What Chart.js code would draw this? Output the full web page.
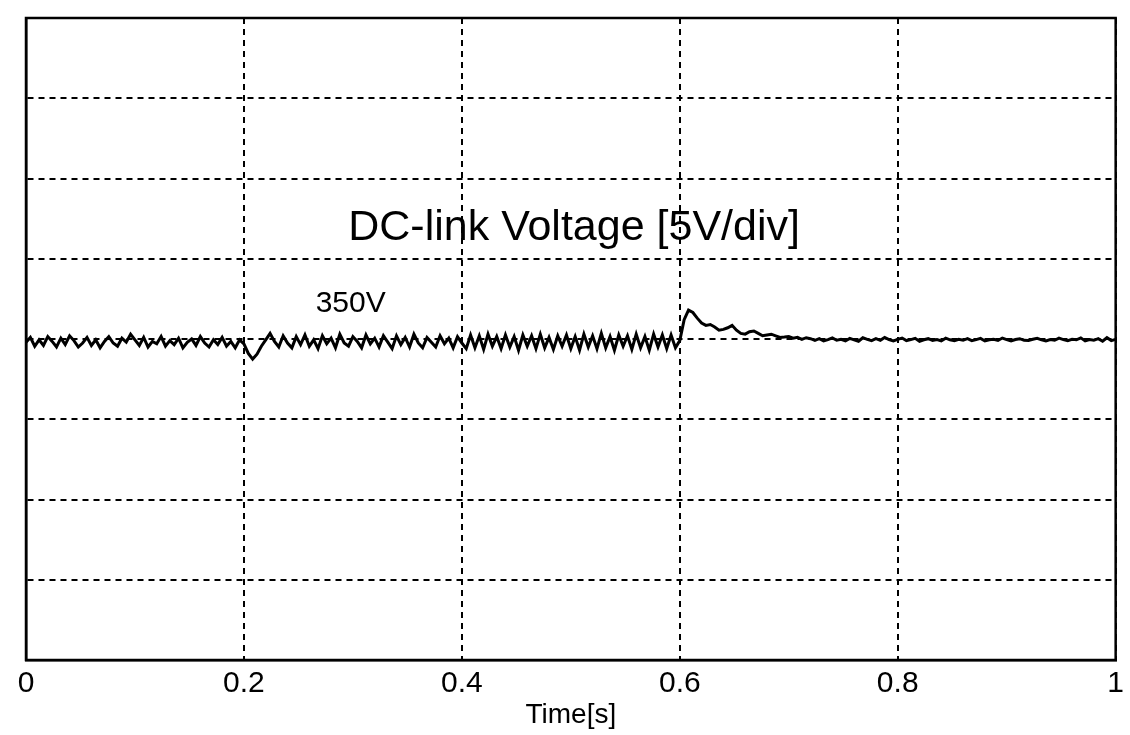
<!DOCTYPE html>
<html>
<head>
<meta charset="utf-8">
<script src="https://cdn.jsdelivr.net/npm/chart.js@4.4.1/dist/chart.umd.min.js"></script>
<style>
  html, body { margin: 0; padding: 0; background: #fff; }
  #wrap { width: 1130px; height: 735px; }
</style>
</head>
<body>
<div id="wrap"><canvas id="c" width="1130" height="735"></canvas></div>
<script>
// ---- data ----
const sampleStep = 0.004;            // seconds between samples
const xTickLabels = ['0', '0.2', '0.4', '0.6', '0.8', '1'];
const xTickValues = [0, 0.2, 0.4, 0.6, 0.8, 1];
const yGridValues = [330, 335, 340, 345, 350, 355, 360, 365, 370];
const xTitle = 'Time[s]';
const plotTitle = 'DC-link Voltage [5V/div]';
const levelLabel = '350V';

// DC-link voltage [V], 0 .. 0.2 s
const vSeg1 = [
  349.80, 350.10, 349.55, 349.95, 349.60, 350.15, 349.85, 349.50, 350.05, 349.65,
  350.20, 349.90, 349.50, 349.75, 350.10, 349.60, 349.95, 349.45, 349.85, 350.15,
  349.75, 349.55, 350.05, 349.80, 350.30, 349.95, 349.60, 350.10, 349.50, 349.85,
  349.70, 350.15, 349.55, 349.90, 349.65, 350.05, 349.45, 349.80, 350.00, 349.60,
  350.15, 349.75, 349.50, 349.95, 349.65, 350.10, 349.55, 349.85, 349.45, 349.95,
  349.70
];
// dip after load step at 0.2 s, then 0.2 .. 0.4 s
const vSeg2 = [
  349.10, 348.75, 349.05, 349.55, 349.95, 350.35, 349.85,
  349.50, 350.20, 349.75, 349.45, 350.15, 349.65, 350.25, 349.55, 349.95, 349.40,
  350.20, 349.70, 350.05, 349.45, 350.30, 349.75, 349.55, 350.15, 349.85, 349.45,
  350.25, 349.70, 350.05, 349.50, 350.20, 349.80, 349.40, 350.20, 349.65, 350.10,
  349.50, 350.30, 349.75, 349.45, 350.10, 349.80, 349.50, 350.20, 349.70, 350.05,
  349.45, 350.15, 349.75
];
// 0.4 .. 0.6 s
const vSeg3 = [
  349.40, 350.25, 349.45, 350.20, 349.35, 350.30, 349.55, 350.15, 349.40, 350.25,
  349.50, 350.15, 349.30, 350.25, 349.55, 350.20, 349.40, 350.30, 349.45, 350.10,
  349.35, 350.20, 349.55, 350.25, 349.40, 350.15, 349.30, 350.30, 349.50, 350.20,
  349.40, 350.35, 349.45, 350.15, 349.30, 350.25, 349.55, 350.20, 349.35, 350.30,
  349.45, 350.15, 349.30, 350.30, 349.50, 350.25, 349.40, 350.25, 349.45, 349.90
];
// overshoot after 0.6 s and settling, 0.604 .. 0.72 s
const vSeg4 = [
  351.20, 351.80, 351.65, 351.30, 351.00, 350.85, 350.90, 350.75, 350.55, 350.60,
  350.70, 350.85, 350.55, 350.35, 350.30, 350.45, 350.50, 350.35, 350.20, 350.25,
  350.30, 350.20, 350.10, 350.12, 350.15, 350.05, 350.10, 349.98, 350.08, 350.02
];
// 0.724 .. 1.0 s
const vSeg5 = [
  349.92, 350.02, 349.88, 349.96, 350.07, 349.92, 349.98, 349.88, 350.04, 349.95,
  349.86, 350.08, 349.98, 349.90, 350.02, 349.92, 350.10, 349.96, 349.88, 349.98,
  350.06, 349.90, 349.96, 350.04, 349.86, 349.95, 350.02, 349.91, 349.97, 349.88,
  350.05, 349.95, 349.89, 349.98, 349.92, 350.02, 349.90, 349.96, 350.04, 349.88,
  349.95, 349.98, 349.91, 350.06, 349.96, 349.88, 349.97, 350.02, 349.92, 349.90,
  349.98, 350.04, 349.95, 349.88, 349.97, 349.92, 350.05, 349.96, 349.90, 349.98,
  349.95, 350.07, 349.88, 349.97, 349.92, 350.02, 349.86, 350.08, 349.90, 349.98
];
// text anchor positions in data space (time [s], voltage [V])
const titleAnchor = [0.503, 356.9];
const levelAnchor = [0.298, 352.2];

// ---- build the dataset ----
const voltage = [].concat(vSeg1, vSeg2, vSeg3, vSeg4, vSeg5);
const points = voltage.map((v, i) => ({ x: +(i * sampleStep).toFixed(4), y: v }));

const FONT = '"Liberation Sans", Arial, sans-serif';

const framePlugin = {
  id: 'frame',
  afterDatasetsDraw(chart) {
    const { ctx, chartArea: a, scales } = chart;
    ctx.save();
    ctx.strokeStyle = '#000';
    ctx.lineWidth = 2.5;
    ctx.setLineDash([]);
    ctx.strokeRect(a.left, a.top, a.right - a.left, a.bottom - a.top);
    ctx.fillStyle = '#000';
    ctx.textAlign = 'center';
    ctx.textBaseline = 'middle';
    ctx.font = '43px ' + FONT;
    ctx.fillText(plotTitle, scales.x.getPixelForValue(titleAnchor[0]), scales.y.getPixelForValue(titleAnchor[1]));
    ctx.font = '30px ' + FONT;
    ctx.fillText(levelLabel, scales.x.getPixelForValue(levelAnchor[0]), scales.y.getPixelForValue(levelAnchor[1]));
    ctx.restore();
  }
};

new Chart(document.getElementById('c'), {
  type: 'line',
  data: {
    datasets: [{
      data: points,
      borderColor: '#000',
      borderWidth: 3,
      pointRadius: 0,
      tension: 0,
      fill: false
    }]
  },
  options: {
    responsive: false,
    animation: false,
    events: [],
    layout: { padding: { left: 26, right: 10, top: 18, bottom: 0 } },
    plugins: { legend: { display: false }, tooltip: { enabled: false }, title: { display: false } },
    scales: {
      x: {
        type: 'linear',
        min: 0, max: 1,
        afterBuildTicks(s) { s.ticks = xTickValues.map(v => ({ value: v })); },
        afterFit(s) { s.height = 75; },
        ticks: {
          color: '#000',
          font: { family: FONT, size: 30 },
          padding: 6,
          maxRotation: 0,
          autoSkip: false,
          callback: (v) => xTickLabels[xTickValues.indexOf(v)] ?? ''
        },
        grid: { color: '#000', lineWidth: 2, drawTicks: false },
        border: { display: true, color: '#000', width: 2.5, dash: [6, 5] },
        title: {
          display: true, text: xTitle, color: '#000',
          font: { family: FONT, size: 28 },
          padding: { top: 0, bottom: 3 }
        }
      },
      y: {
        type: 'linear',
        min: 330, max: 370,
        afterBuildTicks(s) { s.ticks = yGridValues.map(v => ({ value: v })); },
        afterFit(s) { s.width = 0; },
        ticks: { display: false },
        grid: { color: '#000', lineWidth: 2, drawTicks: false },
        border: { display: true, color: '#000', width: 2.5, dash: [6, 5] }
      }
    }
  },
  plugins: [framePlugin]
});
</script>
</body>
</html>
